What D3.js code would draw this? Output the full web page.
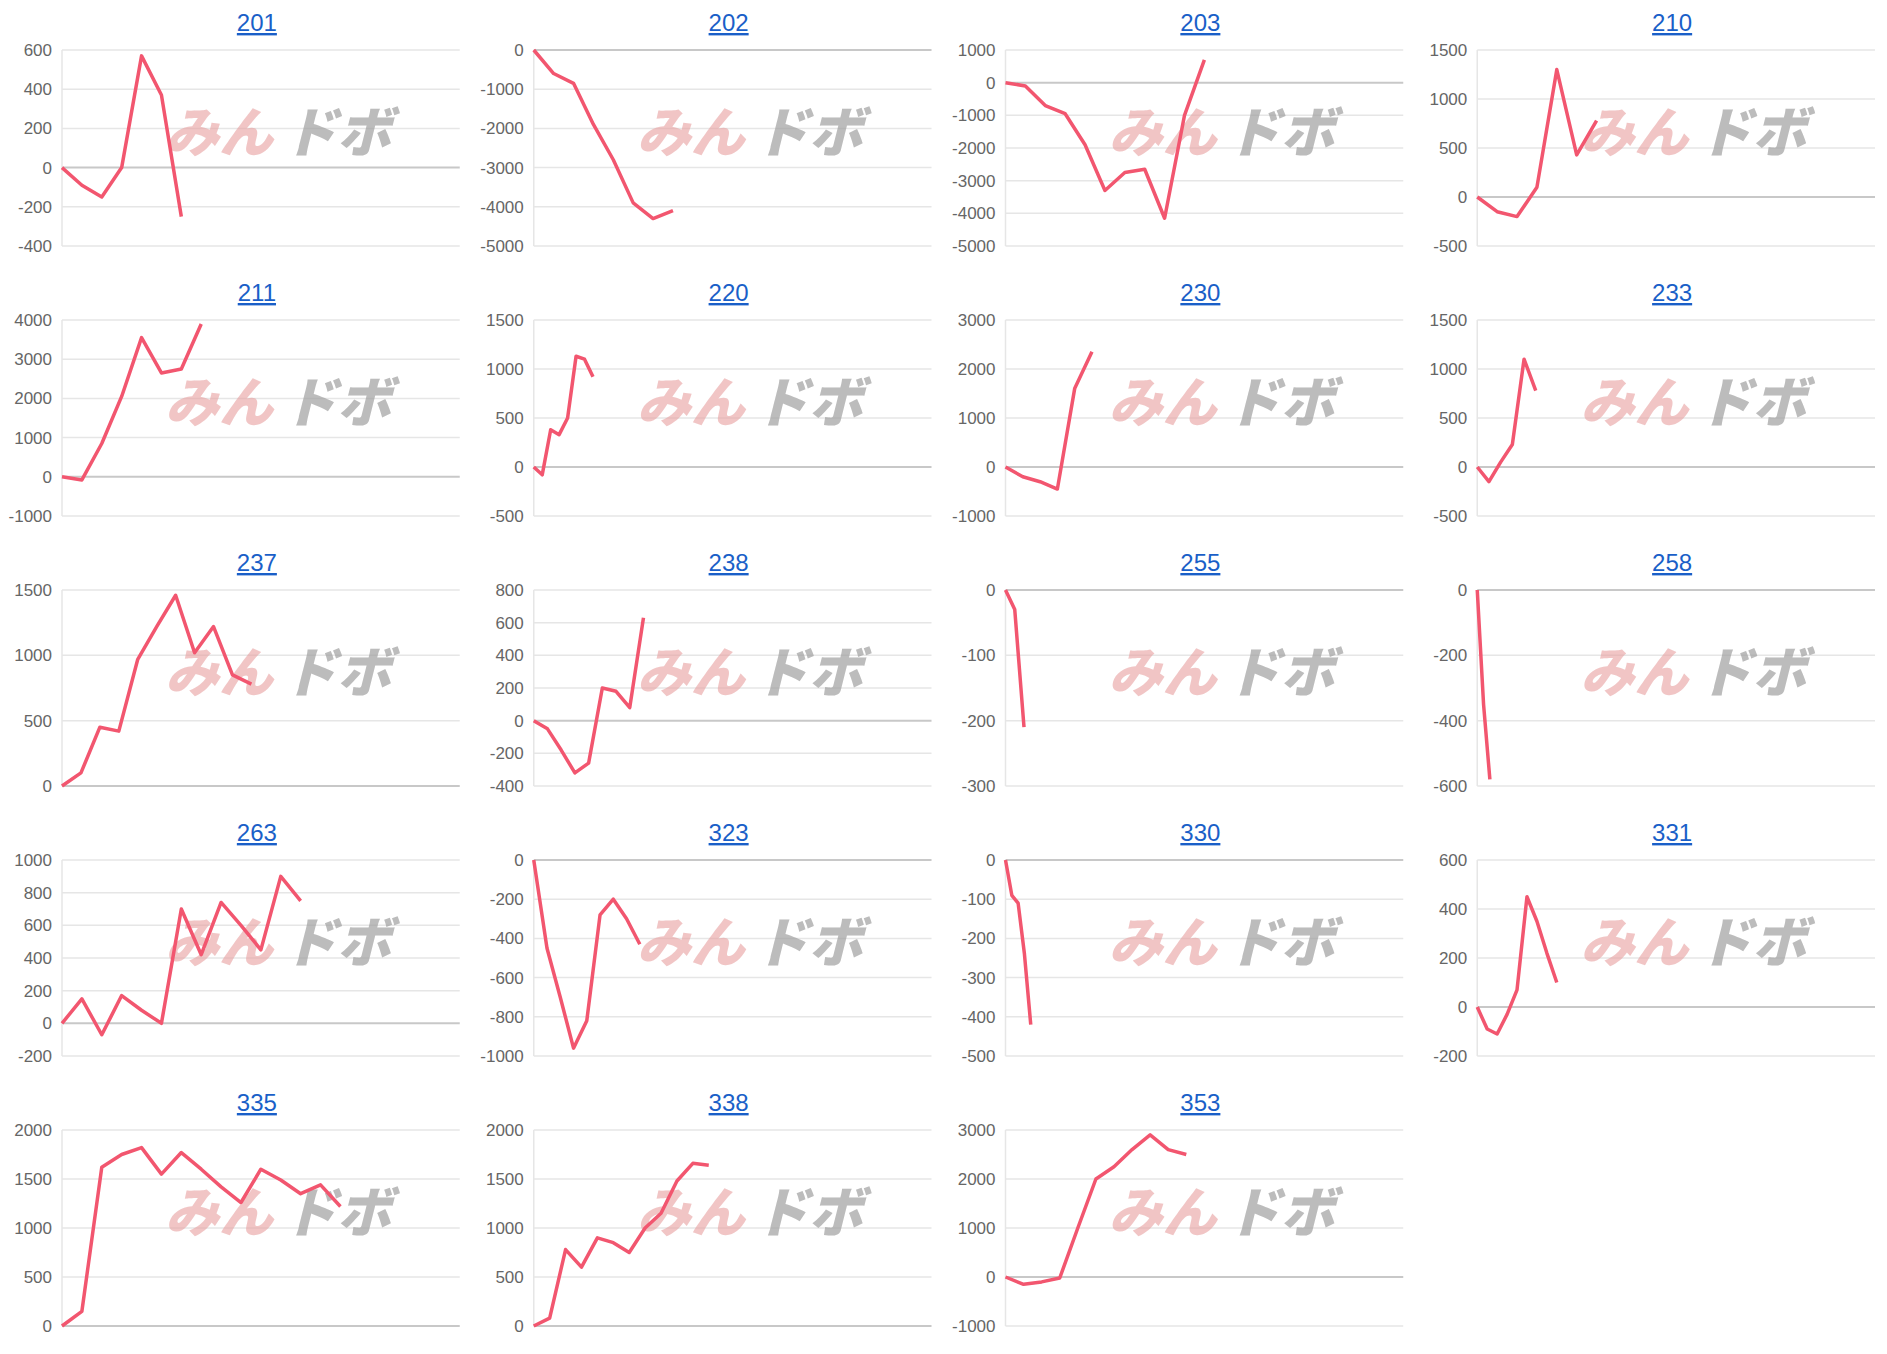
<!DOCTYPE html>
<html><head><meta charset="utf-8">
<script src="https://cdn.jsdelivr.net/npm/d3@7"></script>
<style>body{margin:0;background:#fff;}svg{display:block;}</style>
</head><body>
<script>
const titles = ["201","202","203","210","211","220","230","233","237","238","255","258","263","323","330","331","335","338","353"];
const v201=[0,-90,-150,0,570,370,-250];
const v202=[0,-600,-850,-1900,-2800,-3900,-4300,-4100];
const v203=[0,-100,-700,-950,-1900,-3300,-2750,-2650,-4150,-1000,700];
const v210=[0,-150,-200,100,1300,430,780];
const v211=[0,-80,850,2050,3550,2650,2750,3900];
const v220=[0,-80,380,330,500,1130,1100,920];
const v230=[0,-200,-300,-450,1600,2350];
const v233=[0,-150,50,230,1100,780];
const v237=[0,100,450,420,970,1220,1460,1020,1220,850,780];
const v238=[0,-50,-180,-320,-260,200,180,80,630];
const v255=[0,-30,-210];
const v258=[0,-350,-580];
const v263=[0,150,-70,170,80,0,700,420,740,600,450,900,750];
const v323=[0,-450,-700,-960,-820,-280,-200,-300,-430];
const v330=[0,-90,-110,-240,-420];
const v331=[0,-90,-110,-30,70,450,350,220,100];
const v335=[0,150,1620,1750,1820,1550,1770,1600,1420,1260,1600,1490,1350,1440,1220];
const v338=[0,80,780,600,900,850,750,1000,1150,1480,1660,1640];
const v353=[0,-150,-100,-20,1000,2000,2250,2600,2900,2600,2500];
const series=[v201,v202,v203,v210,v211,v220,v230,v233,v237,v238,v255,v258,v263,v323,v330,v331,v335,v338,v353];
const slotCounts=[20,20,20,20,20,47,23,34,21,29,43,63,20,30,63,40,20,25,22];
const yMin=[-400,-5000,-5000,-500,-1000,-500,-1000,-500,0,-400,-300,-600,-200,-1000,-500,-200,0,0,-1000];
const yMax=[600,0,1000,1500,4000,1500,3000,1500,1500,800,0,0,1000,0,0,600,2000,2000,3000];
const yStep=[200,1000,1000,500,1000,500,1000,500,500,200,100,200,200,200,100,200,500,500,1000];

const W=1887,H=1354,colW=W/4,rowH=270;
const svg=d3.select("body").append("svg").attr("width",W).attr("height",H);
titles.forEach((t,i)=>{
  const col=i%4,row=Math.floor(i/4);
  const x0=col*colW,y0=row*rowH;
  const left=x0+62,right=x0+colW-12,top=y0+50,bottom=y0+246;
  const g=svg.append("g");
  g.append("text").attr("x",(left+right)/2-4).attr("y",y0+31).attr("text-anchor","middle")
    .attr("font-family","Liberation Sans, Arial, sans-serif").attr("font-size",24)
    .attr("fill","#1a5fc8").attr("text-decoration","underline").text(t);
  const x=d3.scaleLinear().domain([0,slotCounts[i]]).range([left,right]);
  const y=d3.scaleLinear().domain([yMin[i],yMax[i]]).range([bottom,top]);
  const ticks=d3.range(yMin[i],yMax[i]+yStep[i]/2,yStep[i]);
  g.selectAll(".grid").data(ticks).join("line")
    .attr("x1",left).attr("x2",right).attr("y1",d=>y(d)).attr("y2",d=>y(d))
    .attr("stroke",d=>d===0?"#c8c8c8":"#e6e6e6").attr("stroke-width",d=>d===0?2:1.5);
  g.append("line").attr("x1",left).attr("x2",left).attr("y1",top).attr("y2",bottom).attr("stroke","#e6e6e6").attr("stroke-width",1.5);
  const ax=g.append("g").attr("transform",`translate(${left},0)`)
    .call(d3.axisLeft(y).tickValues(ticks).tickSize(0).tickPadding(10).tickFormat(d=>String(d)));
  ax.select(".domain").remove();
  ax.selectAll("text").attr("font-family","Liberation Sans, Arial, sans-serif").attr("font-size",17).attr("fill","#666");
  const wx=x0+165,wy=y0+152;
  g.append("text").attr("x",wx).attr("y",wy).attr("font-family","Noto Sans CJK JP").attr("font-weight",900)
    .attr("font-style","italic").attr("font-size",54).attr("fill","#e8a0a0").attr("opacity",0.6).text("みん");
  g.append("text").attr("x",wx+118).attr("y",wy).attr("font-family","Noto Sans CJK JP").attr("font-weight",900)
    .attr("font-style","italic").attr("font-size",54).attr("fill","#a0a0a0").attr("opacity",0.7).text("ドボ");
  g.append("path").datum(series[i]).attr("fill","none").attr("stroke","#f2566f").attr("stroke-width",3.5)
    .attr("stroke-linejoin","round")
    .attr("d",d3.line().x((d,j)=>x(j)).y(d=>y(d)));
});
</script>
</body></html>
